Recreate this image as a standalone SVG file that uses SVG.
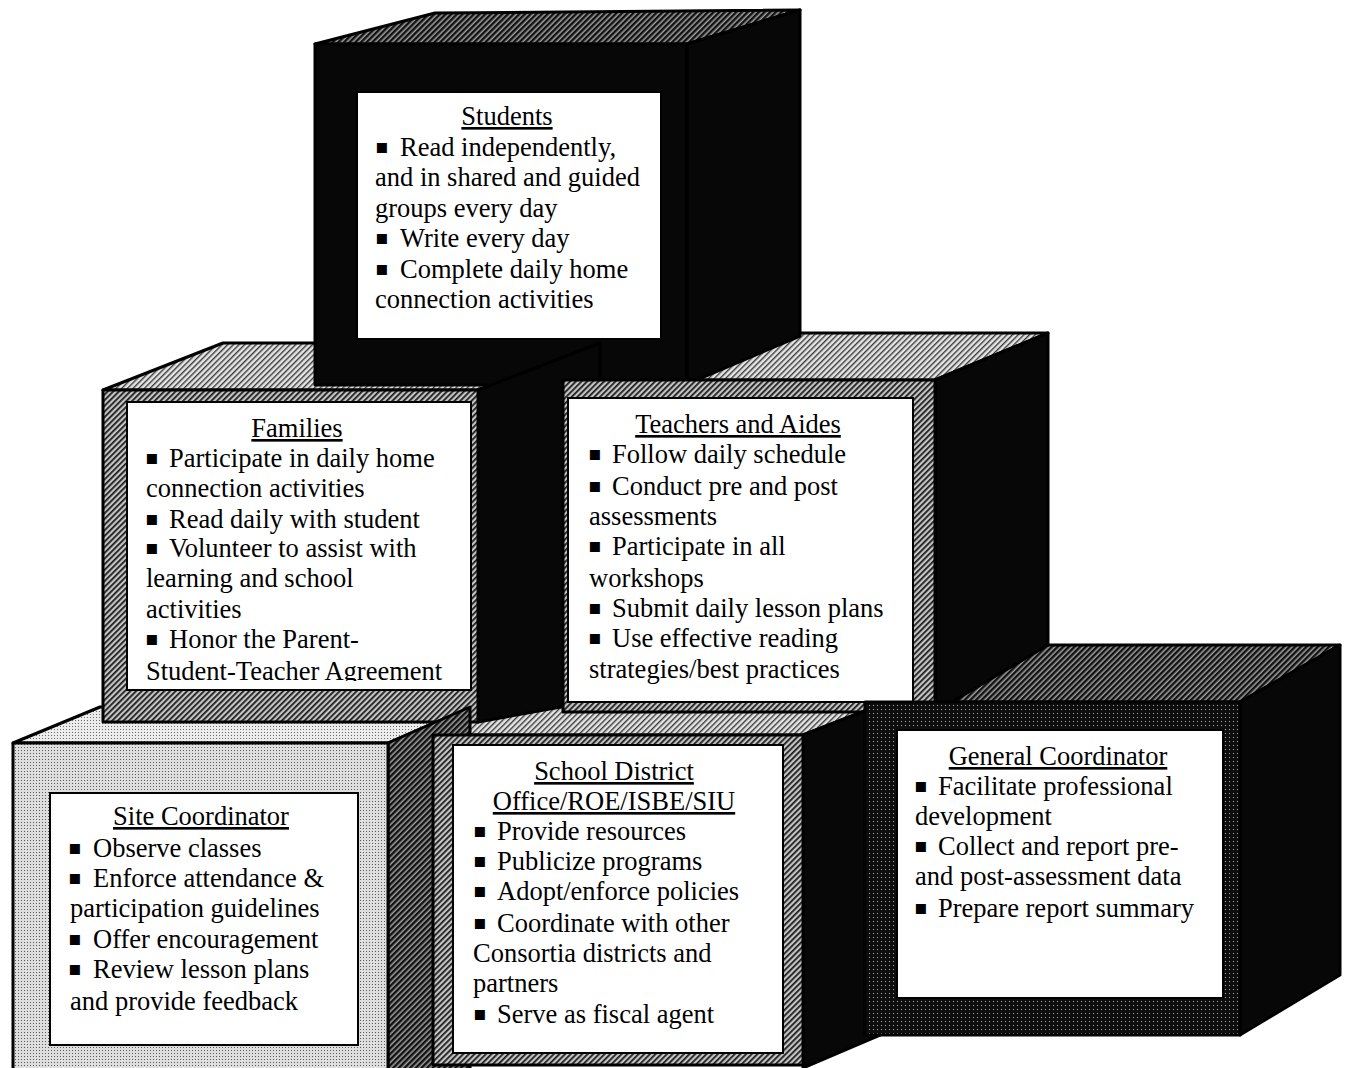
<svg xmlns="http://www.w3.org/2000/svg" width="1349" height="1068" viewBox="0 0 1349 1068">
<style>
.t{font-family:"Liberation Serif","Times New Roman",serif;font-size:26.5px;fill:#000}
.h{text-anchor:middle;text-decoration:underline}
.b{font-family:"DejaVu Sans",sans-serif;font-size:20px}
.lab{fill:#fff;stroke:#000;stroke-width:2}
.edge{stroke:#000;stroke-width:3;stroke-linejoin:round}
.blk{fill:#070707}
</style>
<defs>
<pattern id="hMid" width="4" height="4" patternUnits="userSpaceOnUse" patternTransform="rotate(45)"><rect width="4" height="4" fill="#c4c4c4"/><rect width="1.8" height="4" fill="#1e1e1e"/></pattern>
<pattern id="hLight" width="4" height="4" patternUnits="userSpaceOnUse" patternTransform="rotate(45)"><rect width="4" height="4" fill="#e4e4e4"/><rect width="1.4" height="4" fill="#3a3a3a"/></pattern>
<pattern id="hDark" width="4" height="4" patternUnits="userSpaceOnUse" patternTransform="rotate(45)"><rect width="4" height="4" fill="#9a9a9a"/><rect width="2.4" height="4" fill="#111"/></pattern>
<pattern id="dLight" width="3" height="3" patternUnits="userSpaceOnUse"><rect width="3" height="3" fill="#dedede"/><rect width="1" height="1" fill="#5a5a5a"/></pattern>
<pattern id="dTop" width="3" height="3" patternUnits="userSpaceOnUse"><rect width="3" height="3" fill="#ececec"/><rect width="1" height="1" fill="#6a6a6a"/></pattern>
<pattern id="dDark" width="4" height="4" patternUnits="userSpaceOnUse"><rect width="4" height="4" fill="#0e0e0e"/><rect x="1" y="1" width="1" height="1" fill="#aaa"/></pattern>
<clipPath id="famClip"><rect x="127" y="402" width="344" height="279"/></clipPath>
</defs>
<rect width="1349" height="1068" fill="#fff"/>

<!-- back top faces -->
<g id="topfaces">
<polygon points="13,743 100,707 470,707 388,743" fill="url(#dTop)" class="edge"/>
<polygon points="433,735 515,705 880,705 803,735" fill="url(#hLight)" class="edge"/>
<polygon points="865,702 1047,645 1340,645 1240,702" fill="url(#hDark)" class="edge"/>
<polygon points="103,390 223,343 600,343 478,390" fill="url(#hLight)" class="edge"/>
<polygon points="563,380 680,333 1048,333 935,380" fill="url(#hLight)" class="edge"/>
</g>

<g id="students">
<polygon points="315,44 435,13 800,10 687,44" fill="url(#hDark)" class="edge"/>
<rect x="315" y="44" width="372" height="341" class="blk edge"/>
<polygon points="687,44 800,10 800,336 687,384" class="blk edge"/>
<rect x="357" y="92" width="304" height="247" class="lab"/>
<text class="t h" x="507" y="125">Students</text>
<text class="t" y="156"><tspan class="b" x="375" dy="-3">▪</tspan><tspan x="400" dy="3">Read independently,</tspan></text>
<text class="t" x="375" y="186">and in shared and guided</text>
<text class="t" x="375" y="217">groups every day</text>
<text class="t" y="247"><tspan class="b" x="375" dy="-3">▪</tspan><tspan x="400" dy="3">Write every day</tspan></text>
<text class="t" y="278"><tspan class="b" x="375" dy="-3">▪</tspan><tspan x="400" dy="3">Complete daily home</tspan></text>
<text class="t" x="375" y="308">connection activities</text>
</g>

<g id="families">
<polygon points="478,390 600,343 600,700 478,722" class="blk edge"/>
<rect x="103" y="390" width="375" height="332" fill="url(#hMid)" class="edge"/>
<rect x="127" y="402" width="344" height="288" class="lab"/>
<g clip-path="url(#famClip)">
<text class="t h" x="297" y="437">Families</text>
<text class="t" y="467"><tspan class="b" x="145" dy="-3">▪</tspan><tspan x="169" dy="3">Participate in daily home</tspan></text>
<text class="t" x="146" y="497">connection activities</text>
<text class="t" y="528"><tspan class="b" x="145" dy="-3">▪</tspan><tspan x="169" dy="3">Read daily with student</tspan></text>
<text class="t" y="557"><tspan class="b" x="145" dy="-3">▪</tspan><tspan x="169" dy="3">Volunteer to assist with</tspan></text>
<text class="t" x="146" y="587">learning and school</text>
<text class="t" x="146" y="618">activities</text>
<text class="t" y="648"><tspan class="b" x="145" dy="-3">▪</tspan><tspan x="169" dy="3">Honor the Parent-</tspan></text>
<text class="t" x="146" y="680">Student-Teacher Agreement</text>
</g>
</g>

<g id="teachers">
<polygon points="935,380 1048,333 1048,645 935,712" class="blk edge"/>
<rect x="563" y="380" width="372" height="332" fill="url(#hMid)" class="edge"/>
<rect x="568" y="398" width="345" height="304" class="lab"/>
<text class="t h" x="738" y="433">Teachers and Aides</text>
<text class="t" y="463"><tspan class="b" x="588" dy="-3">▪</tspan><tspan x="612" dy="3">Follow daily schedule</tspan></text>
<text class="t" y="495"><tspan class="b" x="588" dy="-3">▪</tspan><tspan x="612" dy="3">Conduct pre and post</tspan></text>
<text class="t" x="589" y="525">assessments</text>
<text class="t" y="555"><tspan class="b" x="588" dy="-3">▪</tspan><tspan x="612" dy="3">Participate in all</tspan></text>
<text class="t" x="589" y="587">workshops</text>
<text class="t" y="617"><tspan class="b" x="588" dy="-3">▪</tspan><tspan x="612" dy="3">Submit daily lesson plans</tspan></text>
<text class="t" y="647"><tspan class="b" x="588" dy="-3">▪</tspan><tspan x="612" dy="3">Use effective reading</tspan></text>
<text class="t" x="589" y="678">strategies/best practices</text>
</g>

<g id="site">
<polygon points="388,743 470,707 470,1070 388,1070" fill="url(#hDark)" class="edge"/>
<rect x="13" y="743" width="375" height="330" fill="url(#dLight)" class="edge"/>
<rect x="50" y="793" width="308" height="252" class="lab"/>
<text class="t h" x="201" y="825">Site Coordinator</text>
<text class="t" y="857"><tspan class="b" x="68" dy="-3">▪</tspan><tspan x="93" dy="3">Observe classes</tspan></text>
<text class="t" y="887"><tspan class="b" x="68" dy="-3">▪</tspan><tspan x="93" dy="3">Enforce attendance &amp;</tspan></text>
<text class="t" x="70" y="917">participation guidelines</text>
<text class="t" y="948"><tspan class="b" x="68" dy="-3">▪</tspan><tspan x="93" dy="3">Offer encouragement</tspan></text>
<text class="t" y="978"><tspan class="b" x="68" dy="-3">▪</tspan><tspan x="93" dy="3">Review lesson plans</tspan></text>
<text class="t" x="70" y="1010">and provide feedback</text>
</g>

<g id="district">
<polygon points="803,735 880,705 880,1035 803,1068" class="blk edge"/>
<rect x="433" y="735" width="370" height="330" fill="url(#hMid)" class="edge"/>
<rect x="453" y="745" width="330" height="308" class="lab"/>
<text class="t h" x="614" y="780">School District</text>
<text class="t h" x="614" y="810">Office/ROE/ISBE/SIU</text>
<text class="t" y="840"><tspan class="b" x="473" dy="-3">▪</tspan><tspan x="497" dy="3">Provide resources</tspan></text>
<text class="t" y="870"><tspan class="b" x="473" dy="-3">▪</tspan><tspan x="497" dy="3">Publicize programs</tspan></text>
<text class="t" y="900"><tspan class="b" x="473" dy="-3">▪</tspan><tspan x="497" dy="3">Adopt/enforce policies</tspan></text>
<text class="t" y="932"><tspan class="b" x="473" dy="-3">▪</tspan><tspan x="497" dy="3">Coordinate with other</tspan></text>
<text class="t" x="473" y="962">Consortia districts and</text>
<text class="t" x="473" y="992">partners</text>
<text class="t" y="1023"><tspan class="b" x="473" dy="-3">▪</tspan><tspan x="497" dy="3">Serve as fiscal agent</tspan></text>
</g>

<g id="general">
<polygon points="1240,702 1340,645 1340,975 1240,1035" class="blk edge"/>
<rect x="865" y="702" width="375" height="333" fill="url(#dDark)" class="edge"/>
<rect x="897" y="730" width="326" height="268" class="lab"/>
<text class="t h" x="1058" y="765">General Coordinator</text>
<text class="t" y="795"><tspan class="b" x="914" dy="-3">▪</tspan><tspan x="938" dy="3">Facilitate professional</tspan></text>
<text class="t" x="915" y="825">development</text>
<text class="t" y="855"><tspan class="b" x="914" dy="-3">▪</tspan><tspan x="938" dy="3">Collect and report pre-</tspan></text>
<text class="t" x="915" y="885">and post-assessment data</text>
<text class="t" y="917"><tspan class="b" x="914" dy="-3">▪</tspan><tspan x="938" dy="3">Prepare report summary</tspan></text>
</g>
<g id="connectors"/>
</svg>
